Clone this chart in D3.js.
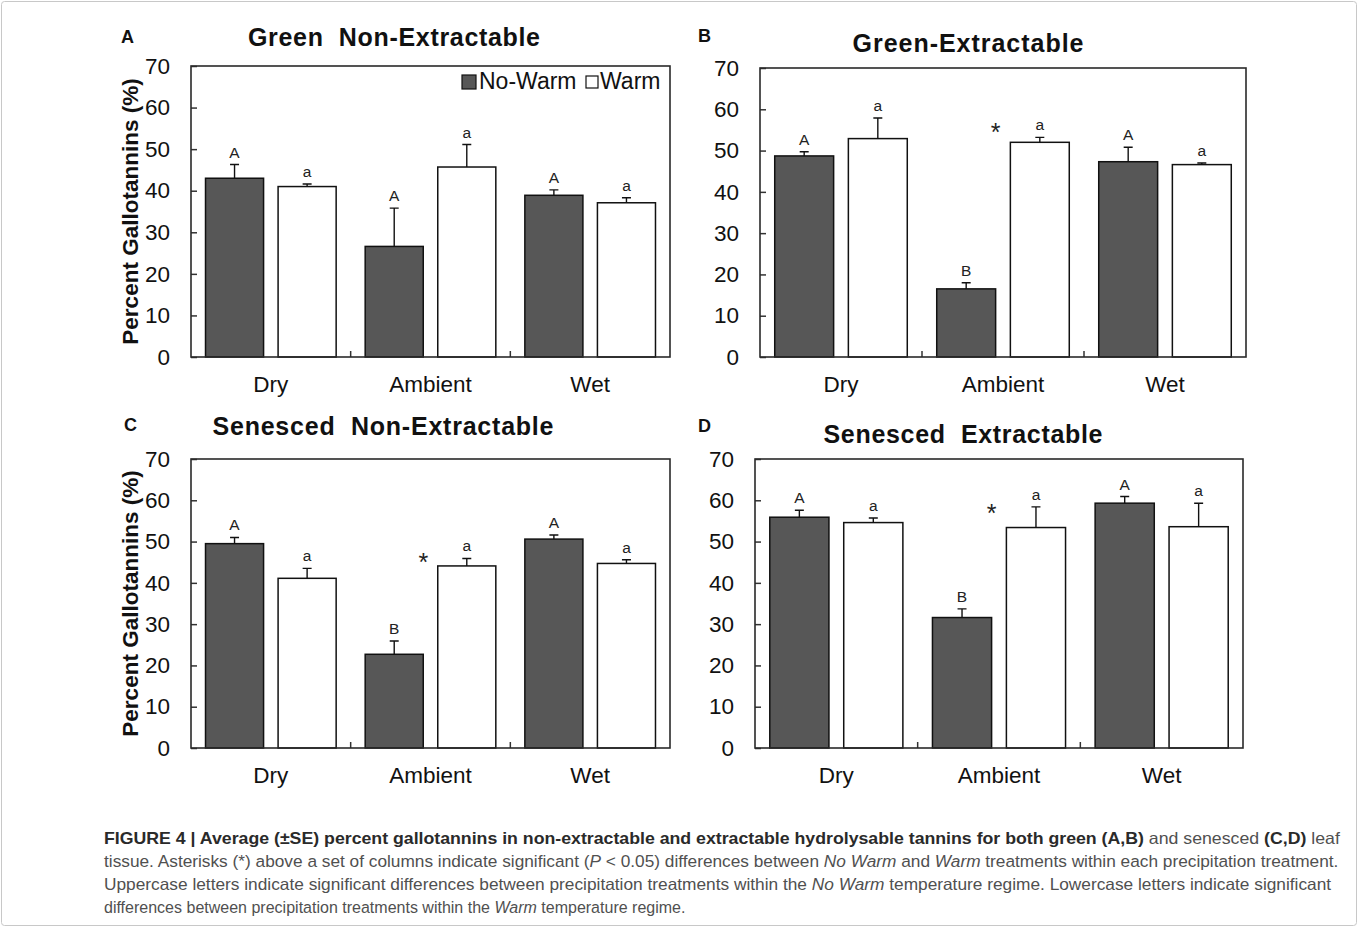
<!DOCTYPE html>
<html>
<head>
<meta charset="utf-8">
<script src="https://cdn.jsdelivr.net/npm/d3@7"></script>
<style>
  body { margin: 0; background: #fff; }
  svg { display: block; font-family: 'Liberation Sans', Arial, sans-serif; }
</style>
</head>
<body>
<svg id="fig" width="1358" height="928"></svg>
<script>
const groups = ['Dry', 'Ambient', 'Wet'];
const seriesNames = ['No-Warm', 'Warm'];
const panelLetters = ['A', 'B', 'C', 'D'];
const panelTitles = ['Green  Non-Extractable', 'Green-Extractable', 'Senesced  Non-Extractable', 'Senesced  Extractable'];
const yTicks = [0, 10, 20, 30, 40, 50, 60, 70];
const yTitle = 'Percent Gallotannins (%)';

// means and standard errors, one row per panel (A-D), columns Dry / Ambient / Wet
const noWarmMeans = [[43.0, 26.6, 38.9], [48.7, 16.5, 47.3], [49.5, 22.7, 50.6], [55.9, 31.6, 59.3]];
const noWarmSE = [[3.3, 9.2, 1.3], [1.0, 1.5, 3.5], [1.5, 3.2, 1.0], [1.7, 2.1, 1.6]];
const warmMeans = [[41.0, 45.7, 37.1], [52.9, 52.0, 46.6], [41.1, 44.1, 44.7], [54.6, 53.4, 53.6]];
const warmSE = [[0.6, 5.4, 1.2], [5.0, 1.2, 0.4], [2.4, 1.8, 0.9], [1.1, 5.0, 5.7]];
const noWarmLetters = [['A', 'A', 'A'], ['A', 'B', 'A'], ['A', 'B', 'A'], ['A', 'B', 'A']];
const warmLetters = [['a', 'a', 'a'], ['a', 'a', 'a'], ['a', 'a', 'a'], ['a', 'a', 'a']];
const asteriskGroup = [null, 'Ambient', 'Ambient', 'Ambient'];
const asteriskLevel = [null, 55.4, 46.0, 57.9];

const captionLines = [
  [['FIGURE 4 | Average (±SE) percent gallotannins in non-extractable and extractable hydrolysable tannins for both green (A,B)', 'b'], [' and senesced ', ''], ['(C,D)', 'b'], [' leaf', '']],
  [['tissue. Asterisks (*) above a set of columns indicate significant (', ''], ['P', 'i'], [' < 0.05) differences between ', ''], ['No Warm', 'i'], [' and ', ''], ['Warm', 'i'], [' treatments within each precipitation treatment.', '']],
  [['Uppercase letters indicate significant differences between precipitation treatments within the ', ''], ['No Warm', 'i'], [' temperature regime. Lowercase letters indicate significant', '']],
  [['differences between precipitation treatments within the ', ''], ['Warm', 'i'], [' temperature regime.', '']]
];

const layout = [
  {x0: 191, x1: 670, y0: 66, y1: 357, yTitle: true, legend: true, tx: 394, ty: 46, tw: 292, lx: 121, ly: 43},
  {x0: 760, x1: 1246, y0: 68, y1: 357, tx: 968, ty: 52, tw: 231, lx: 698, ly: 42},
  {x0: 191, x1: 670, y0: 459, y1: 748, yTitle: true, tx: 383, ty: 435, tw: 341, lx: 124, ly: 431},
  {x0: 755, x1: 1243, y0: 459, y1: 748, tx: 963, ty: 443, tw: 279, lx: 698, ly: 432}
];
const darkFill = '#575757';

let svg = d3.select('#fig');

svg.append('rect')
  .attr('x', 1.5).attr('y', 1.5)
  .attr('width', 1355).attr('height', 924)
  .attr('rx', 3)
  .style('fill', 'none')
  .style('stroke', '#c8c8c8');

function BarPanel(svg, i) {
  let L = layout[i];
  let g = svg.append('g');

  let x = d3.scaleBand().domain(groups).range([L.x0, L.x1]);
  let xs = d3.scaleBand().domain(seriesNames)
    .range([0, x.bandwidth()])
    .paddingInner(0.2)
    .paddingOuter(0.2);
  let y = d3.scaleLinear().domain([0, 70]).range([L.y1, L.y0]);

  let rows = groups.map((grp, j) => [
    {grp: grp, s: 'No-Warm', v: noWarmMeans[i][j], se: noWarmSE[i][j], letter: noWarmLetters[i][j]},
    {grp: grp, s: 'Warm', v: warmMeans[i][j], se: warmSE[i][j], letter: warmLetters[i][j]}
  ]).flat();
  let cx = d => x(d.grp) + xs(d.s) + xs.bandwidth() / 2;

  // y axis, ticks pointing inward
  g.append('g')
    .attr('transform', 'translate(' + L.x0 + ',0)')
    .call(d3.axisLeft(y).tickValues(yTicks).tickSizeInner(-6).tickSizeOuter(0).tickPadding(21))
    .call(a => a.select('.domain').remove())
    .call(a => a.selectAll('line').style('stroke', '#333').style('stroke-width', 1.5))
    .call(a => a.selectAll('text')
      .style('font-family', 'Liberation Sans, Arial, sans-serif')
      .style('font-size', '22.5px')
      .style('fill', '#111'));

  // small ticks between precipitation groups
  g.selectAll('.sep')
    .data(groups.slice(1)).enter()
    .append('line')
    .attr('x1', d => x(d)).attr('x2', d => x(d))
    .attr('y1', L.y1).attr('y2', L.y1 - 6)
    .style('stroke', '#333')
    .style('stroke-width', 1.5);

  g.selectAll('.bar')
    .data(rows).enter()
    .append('rect')
    .attr('x', d => x(d.grp) + xs(d.s))
    .attr('width', xs.bandwidth())
    .attr('y', d => y(d.v))
    .attr('height', d => L.y1 - y(d.v))
    .style('fill', d => d.s === 'No-Warm' ? darkFill : '#fff')
    .style('stroke', '#111')
    .style('stroke-width', 1.5);

  g.selectAll('.err')
    .data(rows).enter()
    .append('path')
    .attr('d', d => {
      let top = y(d.v + d.se);
      return 'M' + cx(d) + ',' + y(d.v) + 'V' + top + 'M' + (cx(d) - 4.5) + ',' + top + 'H' + (cx(d) + 4.5);
    })
    .style('fill', 'none')
    .style('stroke', '#111')
    .style('stroke-width', 1.4);

  g.selectAll('.letter')
    .data(rows).enter()
    .append('text')
    .attr('x', cx)
    .attr('y', d => y(d.v + d.se) - 7)
    .attr('text-anchor', 'middle')
    .style('font-size', '15.5px')
    .style('fill', '#222')
    .text(d => d.letter);

  if (asteriskGroup[i]) {
    g.append('text')
      .attr('x', x(asteriskGroup[i]) + xs('No-Warm') + xs.bandwidth())
      .attr('y', y(asteriskLevel[i]) + 13)
      .attr('text-anchor', 'middle')
      .style('font-size', '25px')
      .style('fill', '#222')
      .text('*');
  }

  g.append('rect')
    .attr('x', L.x0).attr('y', L.y0)
    .attr('width', L.x1 - L.x0).attr('height', L.y1 - L.y0)
    .style('fill', 'none')
    .style('stroke', '#2a2a2a')
    .style('stroke-width', 1.6);

  g.selectAll('.cat')
    .data(groups).enter()
    .append('text')
    .attr('x', d => x(d) + x.bandwidth() / 2)
    .attr('y', L.y1 + 35)
    .attr('text-anchor', 'middle')
    .style('font-size', '22.5px')
    .style('fill', '#111')
    .text(d => d);

  g.append('text')
    .attr('x', L.tx).attr('y', L.ty)
    .attr('text-anchor', 'middle')
    .attr('textLength', L.tw)
    .attr('lengthAdjust', 'spacing')
    .style('font-size', '25px')
    .style('font-weight', 'bold')
    .style('fill', '#111')
    .style('white-space', 'pre')
    .text(panelTitles[i]);

  g.append('text')
    .attr('x', L.lx).attr('y', L.ly)
    .style('font-size', '18px')
    .style('font-weight', 'bold')
    .style('fill', '#111')
    .text(panelLetters[i]);

  if (L.yTitle) {
    g.append('text')
      .attr('transform', 'translate(138,' + (L.y0 + L.y1) / 2 + ') rotate(-90)')
      .attr('text-anchor', 'middle')
      .style('font-size', '22.5px')
      .style('font-weight', 'bold')
      .style('fill', '#111')
      .text(yTitle);
  }

  if (L.legend) {
    let lg = g.append('g');
    lg.append('rect')
      .attr('x', 462).attr('y', 75).attr('width', 14).attr('height', 14)
      .style('fill', darkFill).style('stroke', '#111').style('stroke-width', 1.2);
    lg.append('text')
      .attr('x', 479).attr('y', 89)
      .style('font-size', '23px').style('fill', '#111')
      .text(seriesNames[0]);
    lg.append('rect')
      .attr('x', 586).attr('y', 76).attr('width', 12).attr('height', 12)
      .style('fill', '#fff').style('stroke', '#111').style('stroke-width', 1.2);
    lg.append('text')
      .attr('x', 600).attr('y', 89)
      .style('font-size', '23px').style('fill', '#111')
      .text(seriesNames[1]);
  }
}

for (let i = 0; i < 4; i++) {
  new BarPanel(svg, i);
}

// caption: each line squeezed horizontally to the width it has in the figure
let lineWidths = [1237, 1236, 1228, 582];
captionLines.forEach((parts, k) => {
  let t = svg.append('text')
    .style('font-size', '16.5px')
    .style('white-space', 'pre');
  parts.forEach(p => {
    t.append('tspan')
      .style('font-weight', p[1] === 'b' ? 'bold' : 'normal')
      .style('font-style', p[1] === 'i' ? 'italic' : 'normal')
      .style('fill', p[1] === 'b' ? '#2a2a2a' : '#505050')
      .text(p[0]);
  });
  let natural = t.node().getComputedTextLength();
  t.attr('transform', 'translate(104,' + (844 + k * 23) + ') scale(' + (lineWidths[k] / natural) + ',1)');
});
</script>
</body>
</html>
